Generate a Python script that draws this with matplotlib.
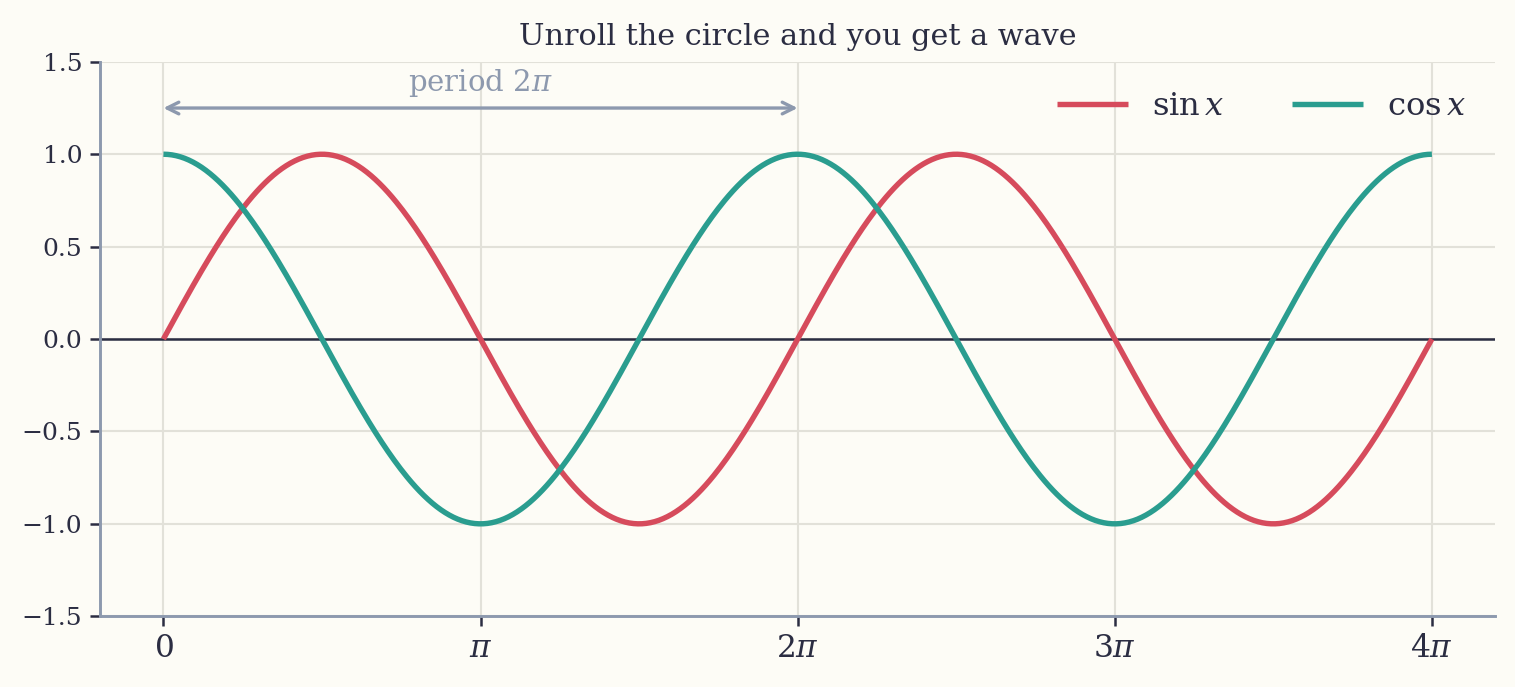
import numpy as np
import matplotlib
matplotlib.use("Agg")
import matplotlib.pyplot as plt

plt.rcParams.update({
    "font.family": ["DejaVu Serif"],
    "mathtext.fontset": "dejavuserif",
})

# chart content
title = "Unroll the circle and you get a wave"
x_end = 4 * np.pi
xtick_vals = [0, np.pi, 2 * np.pi, 3 * np.pi, 4 * np.pi]
xtick_labels = ["$0$", r"$\pi$", r"$2\pi$", r"$3\pi$", r"$4\pi$"]
ytick_vals = [-1.5, -1.0, -0.5, 0.0, 0.5, 1.0, 1.5]
period_start, period_end, period_y = 0.0, 2 * np.pi, 1.25
period_label = r"period $2\pi$"

x = np.linspace(0, x_end, 600)
sin_y = np.sin(x)
cos_y = np.cos(x)

bg = "#fdfcf6"
ink = "#2b2d42"
spine_c = "#8d99ae"
sin_c = "#d64b5c"
cos_c = "#2a9d8f"

fig = plt.figure(figsize=(10.1, 4.58), dpi=150, facecolor=bg)
ax = fig.add_axes([0.066, 0.103, 0.921, 0.807], facecolor=bg)

ax.plot(x, sin_y, color=sin_c, lw=2.6, label=r"$\sin x$", solid_capstyle="butt")
ax.plot(x, cos_y, color=cos_c, lw=2.6, label=r"$\cos x$", solid_capstyle="butt")
ax.axhline(0, color=ink, lw=1.2, zorder=1)

ax.annotate("", xy=(period_end, period_y), xytext=(period_start, period_y),
            arrowprops=dict(arrowstyle="<->", color=spine_c, lw=1.6,
                            mutation_scale=14, shrinkA=0, shrinkB=0))
ax.text((period_start + period_end) / 2, period_y + 0.05, period_label,
        color=spine_c, fontsize=14, ha="center", va="bottom")

ax.set_xticks(xtick_vals)
ax.set_xticklabels(xtick_labels)
ax.set_yticks(ytick_vals)
ax.set_ylim(-1.5, 1.5)
ax.set_xlim(-0.2 * np.pi, 4.2 * np.pi)
ax.tick_params(colors=ink, labelsize=12, length=5, width=1.2)
ax.tick_params(axis="x", labelsize=15, pad=3)

ax.grid(True, color="#e2e1d9", lw=1.0, zorder=0)
ax.set_axisbelow(True)
for s in ["top", "right"]:
    ax.spines[s].set_visible(False)
for s in ["left", "bottom"]:
    ax.spines[s].set_color(spine_c)
    ax.spines[s].set_linewidth(1.4)

ax.set_title(title, fontsize=14.5, color=ink, pad=8)
leg = ax.legend(loc="upper right", ncol=2, frameon=False, fontsize=15.5,
                handlelength=2.2, handletextpad=0.75, columnspacing=2.1,
                bbox_to_anchor=(1.0, 1.0))
for t in leg.get_texts():
    t.set_color(ink)

fig.savefig("out.png", dpi=150, facecolor=bg)
